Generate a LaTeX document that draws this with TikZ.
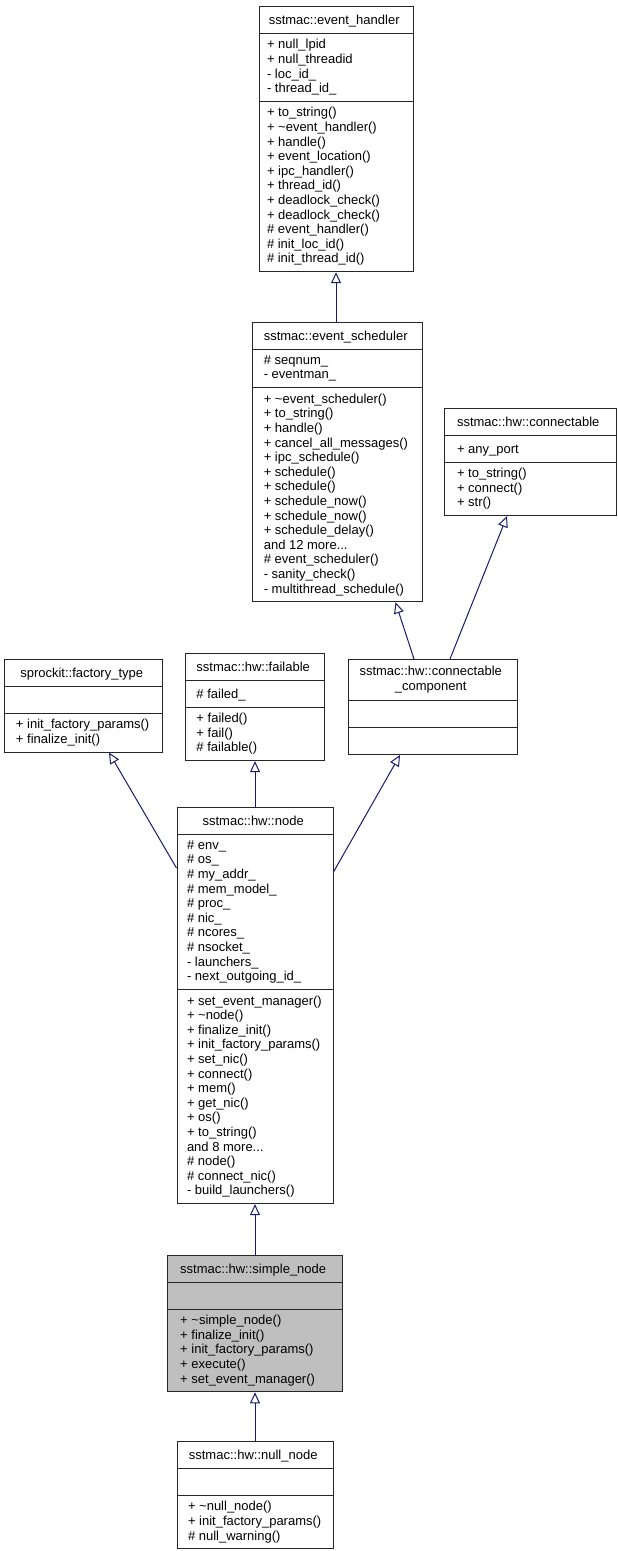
\documentclass[tikz,border=0pt]{standalone}
\usepackage{fontspec}
\newfontfamily\umlfont{Liberation Sans}
\usetikzlibrary{arrows.meta,positioning,shapes.multipart}

\definecolor{edgeblue}{HTML}{191970}
\newcommand\mstrut{\rule[-2.7bp]{0pt}{14.6bp}}

\begin{document}
\begin{tikzpicture}[x=1bp,y=-1bp,node distance=49bp,
    every node/.style={font={\umlfont\fontsize{13bp}{14.6bp}\selectfont}},
    class/.style={rectangle split,rectangle split parts=3,draw=black!85,line width=1bp,
      rectangle split part align={center,left,left},
      anchor=north,inner xsep=11bp,inner ysep=5.6bp,align=left,
      execute at begin node=\mstrut,execute at end node=\mstrut},
    inherit/.style={color=edgeblue,line width=1bp,-{Triangle[open,length=11bp,width=10bp]}}]
    \useasboundingbox (0,0) rectangle (618,1551);

    \node[class,inner xsep=8bp,minimum width=154bp] (handler) at (336,6)
      {sstmac::event\_handler
       \nodepart{two} + null\_lpid\\+ null\_threadid\\- loc\_id\_\\- thread\_id\_
       \nodepart{three} + to\_string()\\+ \textasciitilde event\_handler()\\+ handle()\\
       + event\_location()\\+ ipc\_handler()\\+ thread\_id()\\+ deadlock\_check()\\
       + deadlock\_check()\\\# event\_handler()\\\# init\_loc\_id()\\\# init\_thread\_id()};
    \node[class,minimum width=169bp] (scheduler) at (337.5,322)
      {sstmac::event\_scheduler
       \nodepart{two} \# seqnum\_\\- eventman\_
       \nodepart{three} + \textasciitilde event\_scheduler()\\+ to\_string()\\+ handle()\\
       + cancel\_all\_messages()\\+ ipc\_schedule()\\+ schedule()\\+ schedule()\\
       + schedule\_now()\\+ schedule\_now()\\+ schedule\_delay()\\and 12 more...\\
       \# event\_scheduler()\\- sanity\_check()\\- multithread\_schedule()};
    \node[class,inner xsep=13bp,minimum width=172bp] (connectable) at (530,408)
      {sstmac::hw::connectable
       \nodepart{two} + any\_port
       \nodepart{three} + to\_string()\\+ connect()\\+ str()};
    \node[class,minimum width=157bp] (factory) at (83.5,659)
      {sprockit::factory\_type
       \nodepart{two}
       \nodepart{three} + init\_factory\_params()\\+ finalize\_init()};
    \node[class,minimum width=138bp] (failable) at (255,653)
      {sstmac::hw::failable
       \nodepart{two} \# failed\_
       \nodepart{three} + failed()\\+ fail()\\\# failable()};
    \node[class,minimum width=169bp] (component) at (432.5,659)
      {\begin{tabular}{@{}c@{}}sstmac::hw::connectable\\\_component\end{tabular}
       \nodepart{two}
       \nodepart{three}};
    \node[class,inner xsep=10bp,minimum width=156bp] (hwnode) at (255,807)
      {sstmac::hw::node
       \nodepart{two} \# env\_\\\# os\_\\\# my\_addr\_\\\# mem\_model\_\\\# proc\_\\
       \# nic\_\\\# ncores\_\\\# nsocket\_\\- launchers\_\\- next\_outgoing\_id\_
       \nodepart{three} + set\_event\_manager()\\+ \textasciitilde node()\\+ finalize\_init()\\
       + init\_factory\_params()\\+ set\_nic()\\+ connect()\\+ mem()\\+ get\_nic()\\
       + os()\\+ to\_string()\\and 8 more...\\\# node()\\\# connect\_nic()\\
       - build\_launchers()};
    \node[class,fill=black!25,inner xsep=12.5bp,minimum width=172bp] (simple) at (255,1255)
      {sstmac::hw::simple\_node
       \nodepart{two}
       \nodepart{three} + \textasciitilde simple\_node()\\+ finalize\_init()\\
       + init\_factory\_params()\\+ execute()\\+ set\_event\_manager()};
    \node[class,minimum width=156bp] (nullnode) [below=of simple]
      {sstmac::hw::null\_node
       \nodepart{two}
       \nodepart{three} + \textasciitilde null\_node()\\+ init\_factory\_params()\\
       \# null\_warning()};

    \path[inherit]
    (scheduler.north -| handler.south) edge (handler.south)
    ([xshift=-18.5bp]component.north) edge ([xshift=58bp]scheduler.south)
    ([xshift=17.5bp]component.north) edge ([xshift=-23bp]connectable.south)
    ([yshift=-61bp]hwnode.north west) edge ([xshift=25.5bp]factory.south)
    (hwnode.north) edge (failable.south)
    ([yshift=-65bp]hwnode.north east) edge ([xshift=-32.5bp]component.south)
    (simple.north) edge (hwnode.south)
    (nullnode.north) edge (simple.south);
\end{tikzpicture}
\end{document}
